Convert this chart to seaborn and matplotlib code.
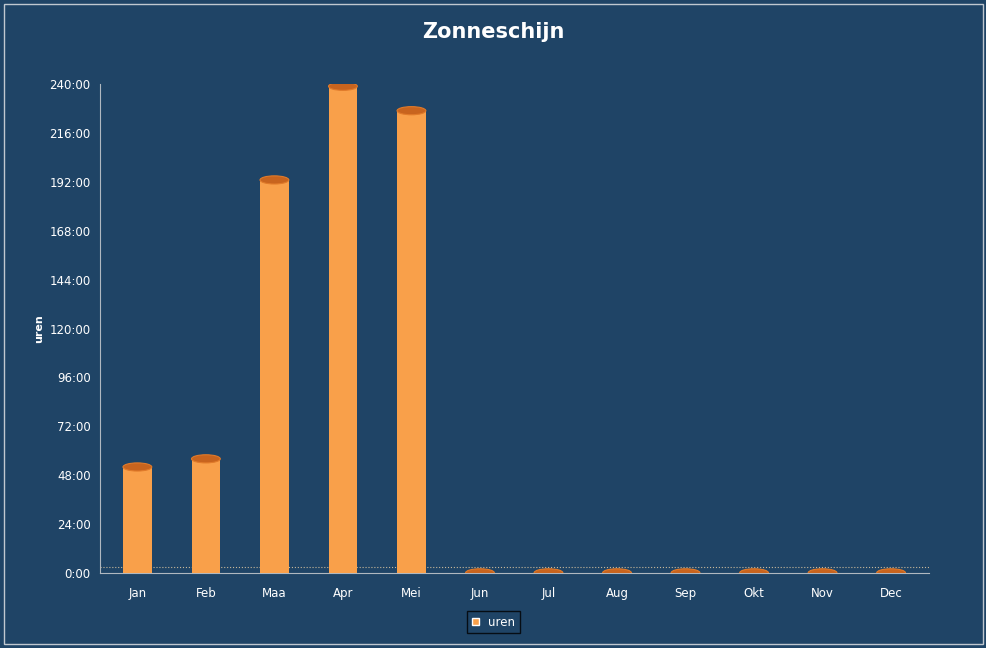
import matplotlib
matplotlib.use("Agg")
import matplotlib.pyplot as plt
import seaborn as sns
import pandas as pd
from matplotlib.patches import Ellipse, Rectangle, Patch
from matplotlib.ticker import FuncFormatter, MultipleLocator

months = ["Jan", "Feb", "Maa", "Apr", "Mei", "Jun", "Jul", "Aug", "Sep", "Okt", "Nov", "Dec"]
uren = [52, 56, 193, 239, 227, 0, 0, 0, 0, 0, 0, 0]

BG = "#1F4466"
ORANGE = "#F9A04A"
DARK = "#C8641E"

sns.set_style("white")
plt.rcParams["font.family"] = ["DejaVu Sans"]

df = pd.DataFrame({"maand": months, "uren": uren})
fig = plt.figure(figsize=(9.87, 6.48), dpi=100, facecolor=BG)
ax = fig.add_axes([0.101, 0.116, 0.84, 0.754], facecolor=BG)

sns.barplot(data=df, x="maand", y="uren", color=ORANGE, width=0.42,
            saturation=1, linewidth=0, ax=ax, zorder=3)
for i, v in enumerate(uren):
    ax.add_patch(Ellipse((i, v), 0.42, 4, facecolor=DARK, edgecolor="#E07A2A",
                         lw=0.8, zorder=4))

ax.set_ylim(0, 240)
ax.set_xlim(-0.55, 11.55)
ax.yaxis.set_major_locator(MultipleLocator(24))
ax.yaxis.set_major_formatter(FuncFormatter(lambda v, p: f"{int(v)}:00"))
ax.tick_params(colors="white", labelsize=8.5, length=3)
ax.tick_params(axis="x", length=0, pad=10)
for s in ["top", "right"]:
    ax.spines[s].set_visible(False)
ax.spines["left"].set_color("#B0B8C0")
ax.spines["bottom"].set_color("#B0B8C0")
ax.axhline(3, color="#C8B89A", lw=0.8, ls=":", zorder=1)
ax.set_xlabel("")
ax.set_ylabel("uren", color="white", fontsize=8, fontweight="bold")

fig.text(0.5, 0.95, "Zonneschijn", color="white", fontsize=15,
         fontweight="bold", ha="center", va="center")
leg = fig.legend(handles=[Patch(facecolor=ORANGE, label="uren")], loc="center",
                 bbox_to_anchor=(0.5, 0.04), frameon=True, fontsize=8.5,
                 handlelength=0.6, handleheight=0.6, fancybox=False)
leg.get_frame().set_facecolor(BG)
leg.get_frame().set_edgecolor("black")
for t in leg.get_texts():
    t.set_color("white")
fig.add_artist(Rectangle((0.004, 0.006), 0.992, 0.988, transform=fig.transFigure,
                         fill=False, edgecolor="#C0C8D0", lw=1))

fig.savefig("out.png", dpi=100, facecolor=BG)
